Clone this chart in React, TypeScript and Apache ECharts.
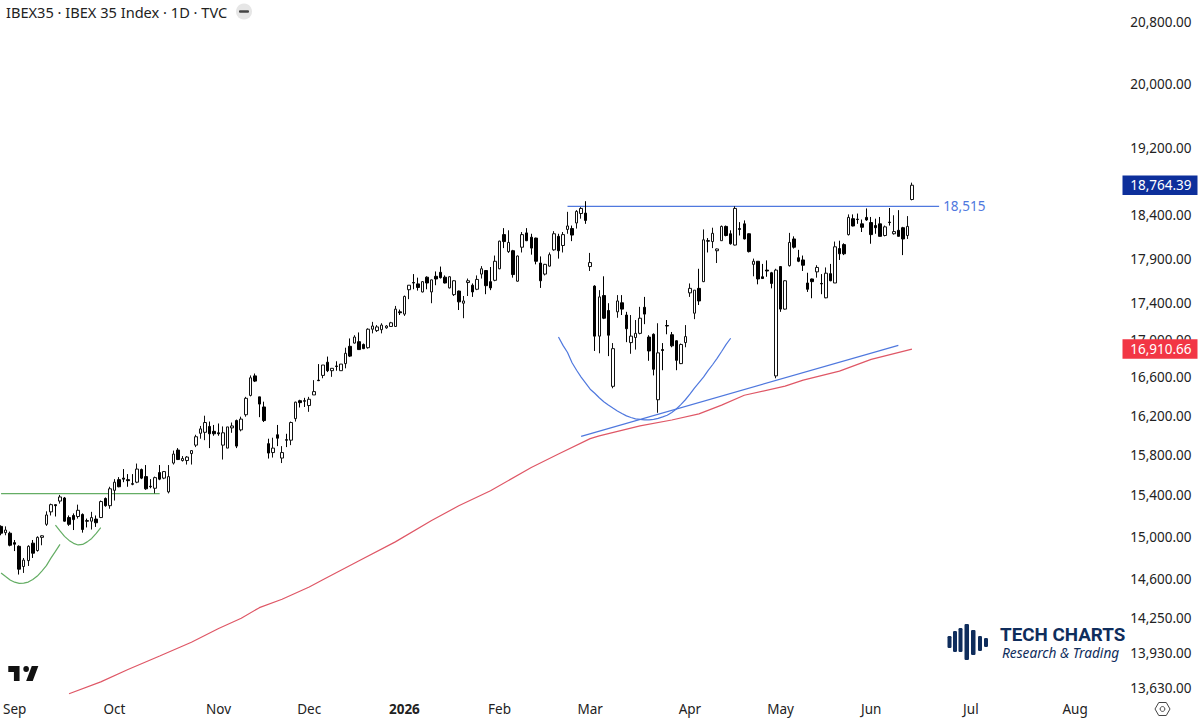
import React, { useEffect, useRef } from "react";
import * as echarts from "echarts";

const SLOT_COUNT = 248;
const monthTicks: [number, string][] = [
  [3, "Sep"], [25, "Oct"], [48, "Nov"], [68, "Dec"], [89, "2026"], [110, "Feb"],
  [130, "Mar"], [152, "Apr"], [172, "May"], [192, "Jun"], [214, "Jul"], [237, "Aug"],
];
const priceTicks = [
  20800, 20000, 19200, 18400, 17900, 17400, 17000, 16600, 16200, 15800, 15400, 15000,
  14600, 14250, 13930, 13630,
];
const lastPrice = 18764.39;
const maLast = 16910.66;
const resistance = 18515;

// [open, close, low, high]
const candles: number[][] = [
  [15110,15045,15025,15120],[15050,15075,15025,15110],[15045,14930,14920,15060],[14955,14940,14875,14980],
  [14920,14705,14655,14930],[14730,14790,14670,14810],[14785,14920,14735,14930],[14950,14855,14810,14980],
  [14880,15005,14870,15015],[15005,15020,14930,15025],[15130,15220,15115,15255],[15250,15320,15215,15330],
  [15320,15310,15205,15320],[15355,15395,15330,15415],[15385,15160,15155,15395],[15195,15130,15115,15215],
  [15215,15175,15075,15235],[15205,15265,15185,15320],[15225,15080,15050,15235],[15165,15160,15100,15185],
  [15160,15195,15080,15250],[15180,15145,15105,15215],[15195,15350,15190,15360],[15380,15310,15300,15390],
  [15310,15475,15280,15495],[15460,15540,15360,15570],[15565,15495,15490,15590],[15580,15570,15540,15670],
  [15565,15555,15495,15620],[15525,15520,15510,15620],[15540,15670,15530,15725],[15665,15580,15570,15675],
  [15595,15475,15465,15710],[15500,15495,15480,15570],[15480,15585,15430,15595],[15635,15570,15560,15710],
  [15580,15645,15570,15650],[15445,15595,15430,15710],[15730,15820,15715,15855],[15860,15765,15760,15880],
  [15755,15775,15745,15800],[15755,15790,15715,15800],[15825,15855,15715,15860],[15910,15995,15890,16015],
  [16030,16075,15975,16105],[16040,16140,15960,16210],[16100,16025,15880,16150],[16050,16025,16005,16115],
  [16035,16025,16005,16130],[15910,16035,15765,16100],[15880,16095,15880,16095],[16085,16105,16035,16140],
  [16160,15900,15880,16170],[16065,16175,16050,16200],[16220,16390,16200,16405],[16420,16605,16410,16630],
  [16625,16570,16560,16650],[16405,16330,16195,16405],[16300,16160,16145,16355],[15925,15830,15775,15975],
  [15835,15880,15785,15985],[16015,15980,15900,16115],[15780,15835,15730,15900],[15965,15960,15890,16025],
  [15960,16140,15910,16150],[16180,16350,16150,16355],[16365,16345,16295,16375],[16365,16360,16300,16395],
  [16315,16380,16250,16405],[16425,16460,16425,16580],[16580,16575,16570,16750],[16630,16740,16600,16740],
  [16770,16680,16665,16830],[16680,16705,16615,16705],[16730,16725,16680,16780],[16680,16750,16680,16750],
  [16755,16865,16705,16925],[16940,16835,16825,17025],[16975,17040,16970,17060],[16990,16905,16905,17090],
  [16960,16915,16910,16970],[16925,17125,16915,17135],[17125,17160,17080,17205],[17110,17150,17095,17170],
  [17120,17170,17080,17190],[17140,17160,17130,17170],[17155,17195,17150,17205],[17155,17345,17150,17380],
  [17315,17305,17280,17340],[17290,17485,17270,17495],[17560,17610,17455,17610],[17640,17635,17565,17735],
  [17625,17585,17550,17695],[17535,17650,17530,17655],[17700,17635,17565,17710],[17535,17670,17410,17675],
  [17710,17680,17610,17765],[17755,17695,17685,17820],[17700,17635,17630,17720],[17580,17705,17575,17710],
  [17505,17660,17490,17665],[17545,17425,17335,17550],[17410,17435,17245,17490],[17640,17660,17490,17685],
  [17610,17535,17480,17630],[17565,17675,17555,17720],[17735,17795,17685,17825],[17775,17605,17510,17780],
  [17650,17580,17555,17815],[17665,17880,17655,17945],[17795,18110,17790,18115],[18185,18105,18030,18260],
  [17990,18095,17975,18235],[18000,17730,17695,18010],[17655,17940,17650,17945],[18040,18185,17980,18215],
  [18205,18115,18110,18260],[18155,18030,17955,18195],[18145,17880,17845,18150],[17860,17660,17580,17935],
  [17735,17845,17720,17850],[17825,17955,17820,17980],[18010,18195,18000,18225],[18165,18000,17910,18195],
  [18060,18185,17980,18215],[18245,18285,18195,18450],[18255,18180,18110,18290],[18320,18455,18255,18470],
  [18430,18490,18370,18505],[18435,18350,18310,18575],[17820,17865,17770,17975],[17600,17050,16890,17610],
  [17050,17480,16865,17555],[17495,17245,17235,17710],[17330,17060,16835,17410],[16515,16915,16495,16975],
  [17315,17435,17250,17500],[17415,17345,17280,17500],[17280,17130,16985,17315],[16980,17050,16860,17280],
  [17035,17080,16905,17225],[17080,17245,17070,17370],[17365,17290,17180,17480],[17040,16890,16785,17060],
  [17070,16695,16630,17080],[16375,16870,16240,17190],[16905,16895,16685,16975],[17165,17160,17070,17225],
  [17065,16945,16930,17095],[17000,16790,16685,17005],[16755,16960,16750,16970],[16980,17045,16930,17170],
  [17525,17575,17480,17630],[17300,17555,17235,17555],[17575,17435,17390,17795],[17650,18125,17645,18245],
  [18115,18110,17980,18145],[18105,18200,18030,18265],[18000,18020,17860,18025],[18115,18280,18115,18290],
  [18280,18175,18165,18290],[18195,18080,18070,18235],[18065,18490,18060,18515],[18255,18245,18175,18330],
  [18310,18135,18130,18350],[18195,17990,17980,18200],[17845,17880,17710,17910],[17880,17680,17620,17880],
  [17705,17685,17680,17850],[17780,17770,17705,17890],[17750,17630,17575,17760],[16625,17780,16600,17795],
  [17820,17345,17315,17825],[17345,17660,17340,17665],[17830,18095,17820,18205],[18135,18040,18025,18165],
  [17920,17880,17870,18010],[17895,17835,17770,17945],[17635,17565,17535,17750],[17680,17650,17465,17685],
  [17760,17810,17695,17835],[17630,17625,17510,17735],[17470,17745,17465,17810],[17740,17660,17655,17850],
  [17635,18045,17635,18105],[18025,17965,17895,18115],[18070,17965,17950,18085],[18185,18385,18175,18420],
  [18370,18285,18280,18420],[18365,18360,18310,18430],[18310,18270,18215,18360],[18385,18355,18345,18490],
  [18325,18185,18080,18390],[18290,18265,18195,18370],[18310,18165,18165,18390],[18175,18275,18165,18290],
  [18330,18325,18290,18495],[18195,18220,18185,18410],[18235,18165,18165,18470],[18265,18135,17950,18275],
  [18175,18280,18135,18400],[18595,lastPrice,18585,18795],
];

const movingAverage: [number, number][] = [
  [15,13587],[22,13690],[28,13797],[35,13917],[42,14039],[48,14162],[53,14254],[57,14350],[62,14427],
  [68,14540],[71,14607],[79,14784],[87,14962],[95,15166],[101,15309],[108,15456],[117,15686],[123,15821],
  [130,15976],[132,16003],[141,16105],[148,16166],[154,16229],[159,16319],[164,16422],[173,16517],
  [177,16580],[185,16675],[192,16800],[201,maLast],
];
const risingTrend: [number, number][] = [[128,15999],[198,16950]];
const resistanceLine: [number, number][] = [[125,resistance],[207,resistance]];
const bigCup: [number, number][] = [
  [123,17041],[124,16950],[125,16874],[126,16764],[127,16685],[128,16612],[129,16548],[130,16485],
  [131,16443],[132,16396],[133,16355],[134,16320],[135,16289],[136,16259],[137,16232],[138,16208],
  [139,16192],[140,16178],[141,16172],[142,16168],[143,16168],[144,16173],[145,16183],[146,16198],
  [147,16215],[148,16244],[149,16279],[150,16325],[151,16375],[152,16433],[153,16496],[154,16554],
  [155,16612],[156,16680],[157,16743],[158,16811],[159,16884],[160,16961],[161,17027],
];
const greenNeckline: [number, number][] = [[0,15427],[35,15427]];
const greenCupA: [number, number][] = [
  [0,14669],[1,14636],[2,14604],[3,14584],[4,14573],[5,14576],[6,14585],[7,14609],[8,14641],[9,14687],
  [10,14738],[11,14808],[12,14872],[13,14938],
];
const greenCupB: [number, number][] = [
  [12,15121],[13,15066],[14,15014],[15,14976],[16,14948],[17,14933],[18,14938],[19,14962],[20,14995],
  [21,15043],[22,15097],
];

const FONT = '"Noto Sans", sans-serif';
const BLUE = "#4f78de";
const GREEN = "#64ad64";
const RED = "#df5766";
const NAVY = "#0f2d5c";

const tvPath = "M14 6H2v6h6v9h6V6zm14 15h-7l6-15h7l-6 15zm-7-9a3 3 0 1 0 0-6 3 3 0 0 0 0 6z";
echarts.graphic.registerShape("tvlogo", (echarts.graphic as any).extendPath(tvPath, {}));

const line = (data: [number, number][], color: string, smooth: number | boolean, extra: any = {}) => ({
  type: "line", data, smooth, showSymbol: false, symbol: "none", silent: true,
  lineStyle: { color, width: 1.2 }, z: 3, ...extra,
});

const logoBars = [
  [947.5, 636, 4, 12], [953, 631, 4, 21], [958.5, 628, 4, 24], [964.5, 624, 4.5, 36],
  [971, 630, 4.5, 25], [978, 636, 4, 15], [984, 638, 4, 9],
];

export default function App() {
  const ref = useRef<HTMLDivElement>(null);
  useEffect(() => {
    document.body.style.margin = "0";
    const chart = echarts.init(ref.current!, undefined, { renderer: "svg" });
    const labels = new Map(monthTicks.map(([i, t]) => [i, t] as [number, string]));
    const categories = Array.from({ length: SLOT_COUNT }, (_, i) => labels.get(i) ?? String(i));
    chart.setOption({
      animation: false,
      backgroundColor: "#ffffff",
      grid: { left: 0, top: 0, width: 1120.4, height: 695 },
      xAxis: {
        type: "category", data: categories, boundaryGap: false,
        axisLine: { show: false }, axisTick: { show: false }, splitLine: { show: false },
        axisLabel: {
          interval: (i: number) => labels.has(i), margin: 7, color: "#222", fontFamily: FONT, fontSize: 13.5,
          hideOverlap: false,
          formatter: (v: string) => (v === "2026" ? "{b|2026}" : v),
          rich: { b: { fontWeight: "bold", fontFamily: FONT, fontSize: 13.5, color: "#222" } },
        },
      },
      yAxis: {
        type: "log", min: 13576, max: 21106, show: true, position: "right",
        axisLine: { show: false }, axisTick: { show: false }, splitLine: { show: false }, axisLabel: { show: false },
      },
      series: [
        line(movingAverage, RED, false),
        line(risingTrend, BLUE, false),
        line(resistanceLine, BLUE, false, {
          endLabel: { show: true, formatter: "18,515", color: BLUE, fontFamily: FONT, fontSize: 13.5, distance: 4 },
        }),
        line(bigCup, BLUE, false),
        line(greenNeckline, GREEN, false),
        line(greenCupA, GREEN, false),
        line(greenCupB, GREEN, false),
        {
          type: "candlestick", data: candles, barWidth: 3, z: 4, silent: true,
          itemStyle: { color: "#ffffff", color0: "#000000", borderColor: "#111111", borderColor0: "#000000", borderWidth: 1 },
        },
      ],
    });
    const py = (v: number) => chart.convertToPixel({ yAxisIndex: 0 }, v) as number;
    const text = (t: string, x: number, y: number, size: number, fill: string, extra: any = {}) => ({
      type: "text", x, y, z: 10,
      style: { text: t, fill, font: `${size}px ${FONT}`, align: "right", verticalAlign: "middle", ...extra },
    });
    const tickEls = priceTicks.map((v) =>
      text(v.toLocaleString("en-US", { minimumFractionDigits: 2 }), 1191.5, py(v) - 1, 13.5, "#222")
    );
    const badge = (v: number, fill: string) => {
      const y = py(v);
      return [
        { type: "rect", z: 11, shape: { x: 1122.5, y: y - 9.8, width: 75, height: 19.5 }, style: { fill } },
        { ...text(v.toLocaleString("en-US", { minimumFractionDigits: 2 }), 1191.5, y, 13.5, "#fff"), z: 12 },
      ];
    };
    const hexR = 7.5, gx = 1162.5, gy = 709;
    const hex = [0, 1, 2, 3, 4, 5].map((k) => [gx + hexR * Math.cos((k * Math.PI) / 3), gy + hexR * Math.sin((k * Math.PI) / 3)]);
    chart.setOption({
      graphic: [
        ...tickEls,
        ...badge(lastPrice, "#0d2f9b"),
        ...badge(maLast, "#f23645"),
        text("IBEX35 · IBEX 35 Index · 1D · TVC", 6, 11.5, 14.6, "#222", { align: "left" }),
        { type: "circle", z: 10, shape: { cx: 244, cy: 11.5, r: 8 }, style: { fill: "#e6e6e6" } },
        { type: "rect", z: 11, shape: { x: 239, y: 10.3, width: 10, height: 2.4, r: 1 }, style: { fill: "#444" } },
        { type: "tvlogo", z: 10, x: 6.4, y: 660, scaleX: 0.94, scaleY: 1.0, style: { fill: "#111" } },
        { type: "polygon", z: 10, shape: { points: hex }, style: { fill: "none", stroke: "#444", lineWidth: 1 } },
        { type: "circle", z: 10, shape: { cx: gx, cy: gy, r: 2.4 }, style: { fill: "none", stroke: "#444", lineWidth: 1 } },
        ...logoBars.map(([x, y, w, h]) => ({
          type: "rect", z: 10, shape: { x, y, width: w, height: h, r: 1.2 }, style: { fill: NAVY },
        })),
        {
          type: "text", z: 10, x: 1000, y: 634.5,
          style: { text: "TECH CHARTS", fill: NAVY, font: 'bold 18.8px Roboto, sans-serif', align: "left", verticalAlign: "middle" },
        },
        {
          type: "text", z: 10, x: 1002, y: 652.5,
          style: { text: "Research & Trading", fill: NAVY, font: 'italic 13.7px "Noto Sans", sans-serif', align: "left", verticalAlign: "middle" },
        },
      ],
    });
    return () => chart.dispose();
  }, []);
  return <div ref={ref} style={{ width: 1200, height: 721 }} />;
}
